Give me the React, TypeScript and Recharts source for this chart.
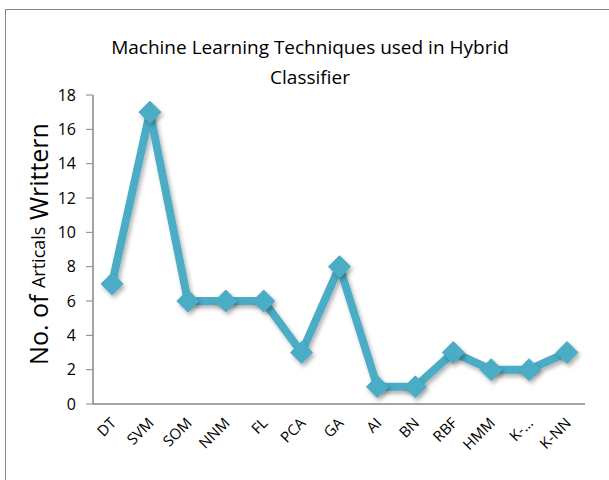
import { Line, LineChart, XAxis, YAxis } from "recharts";

const techniques = ["DT", "SVM", "SOM", "NNM", "FL", "PCA", "GA", "AI", "BN", "RBF", "HMM", "K-...", "K-NN"];
const articles = [7, 17, 6, 6, 6, 3, 8, 1, 1, 3, 2, 2, 3];
const yTicks = [0, 2, 4, 6, 8, 10, 12, 14, 16, 18];

const data = techniques.map((name, i) => ({ name, count: articles[i] }));

const BLUE = "#4BACC6";
const FONT = "'Open Sans', sans-serif";

function Diamond(props: any) {
  const { cx, cy, index } = props;
  if (cx == null || cy == null) return null;
  const r = 11;
  return (
    <path
      key={index}
      d={`M${cx},${cy - r} L${cx + r},${cy} L${cx},${cy + r} L${cx - r},${cy} Z`}
      fill={BLUE}
      stroke={BLUE}
      strokeWidth={1}
      filter="url(#shadow)"
    />
  );
}

function XTick(props: any) {
  const { x, y, payload } = props;
  const ax = x + 5;
  const ay = y + 12;
  return (
    <text
      x={ax}
      y={ay}
      transform={`rotate(-45, ${ax}, ${ay})`}
      textAnchor="end"
      fontFamily={FONT}
      fontSize={15}
      fill="#000"
    >
      {payload.value}
    </text>
  );
}

function YLabel() {
  return (
    <text
      x={38}
      y={244}
      transform="rotate(-90, 38, 244)"
      textAnchor="middle"
      dominantBaseline="central"
      fontFamily={FONT}
      fill="#000"
    >
      <tspan fontSize={25}>No. of </tspan>
      <tspan fontSize={18}>Articals</tspan>
      <tspan fontSize={25}> Writtern</tspan>
    </text>
  );
}

export default function App() {
  return (
    <div style={{ position: "absolute", left: 0, top: 0, width: 609, height: 480, background: "#fff", overflow: "hidden" }}>
      <svg width={0} height={0} style={{ position: "absolute" }}>
        <defs>
          <filter id="shadow" x="-50%" y="-50%" width="200%" height="200%">
            <feDropShadow dx={2} dy={3} stdDeviation={2} floodColor="#000" floodOpacity={0.3} />
          </filter>
        </defs>
      </svg>
      <div
        style={{
          position: "absolute",
          left: 5,
          top: 9,
          width: 700,
          height: 600,
          border: "1px solid #868686",
        }}
      />
      <div
        style={{
          position: "absolute",
          left: 40,
          top: 32,
          width: 540,
          textAlign: "center",
          fontFamily: FONT,
          fontSize: 19,
          lineHeight: "30px",
          color: "#000",
        }}
      >
        Machine Learning Techniques used in Hybrid
        <br />
        Classifier
      </div>
      <div style={{ position: "absolute", left: 0, top: 0 }}>
        <LineChart width={609} height={480} data={data} margin={{ top: 95, right: 24, bottom: 16, left: 0 }}>
          <XAxis
            dataKey="name"
            interval={0}
            height={60}
            padding={{ left: 19, right: 18 }}
            tickLine={false}
            axisLine={{ stroke: "#868686", strokeWidth: 1.5 }}
            tick={<XTick />}
          />
          <YAxis
            width={93}
            domain={[0, 18]}
            ticks={yTicks}
            interval={0}
            tickSize={7}
            tickMargin={10}
            tickLine={{ stroke: "#868686" }}
            axisLine={{ stroke: "#868686", strokeWidth: 1.5 }}
            tick={{ fontFamily: FONT, fontSize: 16, fill: "#000" }}
            label={<YLabel />}
          />
          <Line
            type="linear"
            dataKey="count"
            stroke={BLUE}
            strokeWidth={8}
            strokeLinejoin="round"
            filter="url(#shadow)"
            dot={<Diamond />}
            activeDot={false}
            isAnimationActive={false}
          />
        </LineChart>
      </div>
    </div>
  );
}
